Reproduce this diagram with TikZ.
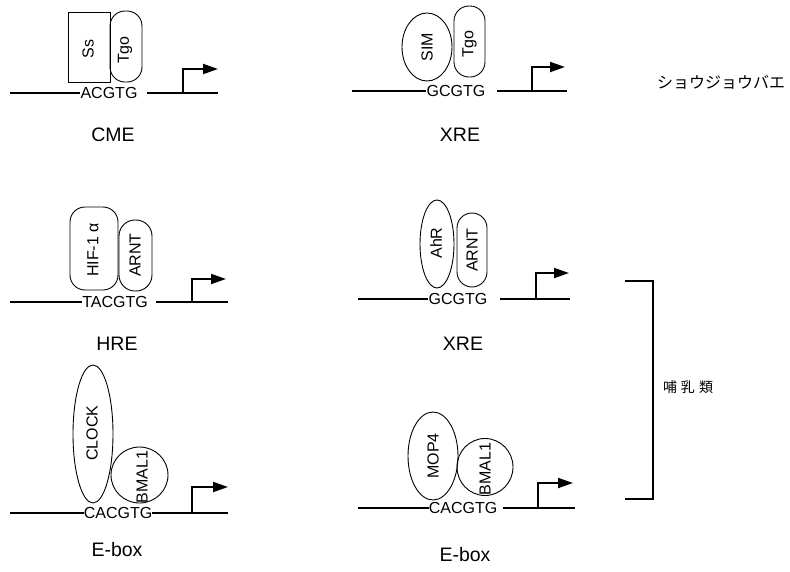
\documentclass[tikz,border=0pt]{standalone}
\usepackage{fontspec}
\setmainfont{Liberation Sans}
\newfontfamily\cjk{Noto Sans CJK JP}
\usetikzlibrary{shapes.geometric,arrows.meta}
\begin{document}
\begin{tikzpicture}[x=1pt,y=-1pt,
  dna/.style={line width=1.9pt},
  prom/.style={line width=1.9pt,-{Triangle[length=15pt,width=10pt]}},
  site/.style={inner sep=0pt,font=\fontsize{16}{16}\selectfont},
  elem/.style={inner sep=0pt,font=\fontsize{19.5}{19.5}\selectfont},
  prot/.style={draw,line width=0.9pt,inner sep=0pt},
  pill/.style={prot,rectangle,rounded corners=#1},
  pill/.default=14pt,
  oval/.style={prot,ellipse},
  plab/.style={rotate=90,inner sep=0pt,font=\fontsize{16}{16}\selectfont},
  bracket/.style={line width=1.9pt},
]
\useasboundingbox (0,0) rectangle (790,571);

% ---------- CME ----------
\coordinate (a1) at (10,93);
\node[site] (s1) at (109,93) {ACGTG};
\coordinate (b1s) at (147,93);
\coordinate (b1) at (218,93);
\draw[dna] (a1) -- (s1.west);
\draw[dna] (b1s) -- (b1);
\coordinate (p1) at (183,93);
\coordinate (t1) at (218,69);
\draw[prom] (p1) |- (t1);
\node[prot,rectangle,minimum width=42pt,minimum height=70pt] (ss) at (89,47) {};
\node[plab] (ssl) at (88,49) {Ss};
\node[pill=15pt,minimum width=32pt,minimum height=71pt] (tgo1) at (126,46.5) {};
\node[plab] (tgo1l) at (125,50) {Tgo};
\node[elem] (cme) at (113,135) {CME};

% ---------- XRE (top) ----------
\coordinate (a2) at (352,91);
\node[site] (s2) at (456,91) {GCGTG};
\coordinate (b2s) at (497,91);
\coordinate (b2) at (567,91);
\draw[dna] (a2) -- (s2.west);
\draw[dna] (b2s) -- (b2);
\coordinate (p2) at (532,91);
\coordinate (t2) at (565,67);
\draw[prom] (p2) |- (t2);
\node[oval,minimum width=50pt,minimum height=68pt] (sim) at (427,47) {};
\node[plab] (siml) at (427,47) {SIM};
\node[pill=15pt,minimum width=31pt,minimum height=71pt] (tgo2) at (469.5,41.5) {};
\node[plab] (tgo2l) at (469.5,44) {Tgo};
\node[elem] (xre1) at (460,135) {XRE};

% ---------- Japanese label ----------
\node[inner sep=0pt,font=\cjk\fontsize{16}{16}\selectfont] (fly) at (721,82) {ショウジョウバエ};

% ---------- HRE ----------
\coordinate (a3) at (10,302);
\node[site] (s3) at (115,302) {TACGTG};
\coordinate (b3s) at (156,302);
\coordinate (b3) at (228,302);
\draw[dna] (a3) -- (s3.west);
\draw[dna] (b3s) -- (b3);
\coordinate (p3) at (192,302);
\coordinate (t3) at (226,279);
\draw[prom] (p3) |- (t3);
\node[pill=15pt,minimum width=48pt,minimum height=83pt] (hif) at (94,248.5) {};
\node[plab] (hifl) at (93,250) {HIF-1 α};
\node[pill=16pt,minimum width=33pt,minimum height=71pt] (arnt1) at (135.5,255.5) {};
\node[plab] (arnt1l) at (135,255) {ARNT};
\node[elem] (hre) at (117,344) {HRE};

% ---------- XRE (middle) ----------
\coordinate (a4) at (358,299);
\node[site] (s4) at (458,299) {GCGTG};
\coordinate (b4s) at (500,299);
\coordinate (b4) at (570,299);
\draw[dna] (a4) -- (s4.west);
\draw[dna] (b4s) -- (b4);
\coordinate (p4) at (536,299);
\coordinate (t4) at (569,273);
\draw[prom] (p4) |- (t4);
\node[oval,minimum width=34pt,minimum height=88pt] (ahr) at (437,244) {};
\node[plab] (ahrl) at (436,243) {AhR};
\node[pill=15pt,minimum width=30pt,minimum height=74pt] (arnt2) at (472,250) {};
\node[plab] (arnt2l) at (472,250) {ARNT};
\node[elem] (xre2) at (463,344) {XRE};

% ---------- E-box (left) ----------
\coordinate (a5) at (10,513);
\node[site] (s5) at (118,513) {CACGTG};
\coordinate (b5) at (228,513);
\draw[dna] (a5) -- (s5.west);
\draw[dna] (s5.east) -- (b5);
\coordinate (p5) at (192,513);
\coordinate (t5) at (228,487);
\draw[prom] (p5) |- (t5);
\node[oval,minimum width=40pt,minimum height=138pt] (clock) at (93,434) {};
\node[plab] (clockl) at (92,433) {CLOCK};
\node[oval,minimum width=57pt,minimum height=56pt] (bmal1) at (139.5,475) {};
\node[plab] (bmal1l) at (142,477) {BMAL1};
\node[elem] (ebox1) at (117,550) {E-box};

% ---------- E-box (right) ----------
\coordinate (a6) at (358,508);
\node[site] (s6) at (463,508) {CACGTG};
\coordinate (b6s) at (503,508);
\coordinate (b6) at (575,508);
\draw[dna] (a6) -- (s6.west);
\draw[dna] (b6s) -- (b6);
\coordinate (p6) at (538,508);
\coordinate (t6) at (573,483);
\draw[prom] (p6) |- (t6);
\node[oval,minimum width=50pt,minimum height=88pt] (mop4) at (433,456) {};
\node[plab] (mop4l) at (433,456) {MOP4};
\node[oval,minimum width=56pt,minimum height=57pt] (bmal2) at (485,467) {};
\node[plab] (bmal2l) at (485,469) {BMAL1};
\node[elem] (ebox2) at (465,555) {E-box};

% ---------- bracket ----------
\coordinate (bt) at (625,281);
\coordinate (bb) at (625,499);
\draw[bracket] (bt) -- (653,281) -- (653,499) -- (bb);
\node[inner sep=0pt,font=\cjk\fontsize{14}{14}\selectfont] (mam) at (688,387) {哺\hspace{4pt}乳\hspace{4pt}類};
\end{tikzpicture}
\end{document}
